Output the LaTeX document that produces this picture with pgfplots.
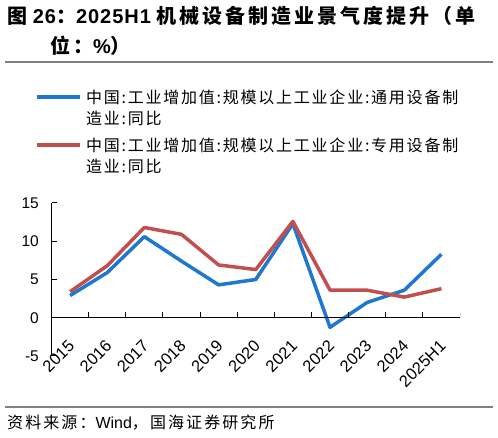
\documentclass[border=0pt]{standalone}
\usepackage{pgfplots}
\pgfplotsset{compat=1.18}
\usepackage{fontspec}
\setmainfont{Liberation Sans}
\newfontfamily\cjk{Noto Sans CJK SC}
\newfontfamily\cjkt{Noto Sans CJK SC}[LetterSpace=15]
\newfontfamily\cjkl{Noto Sans CJK SC}[LetterSpace=11]
\newfontfamily\cjks{Noto Sans CJK SC}[LetterSpace=13]
\newfontfamily\latt{Liberation Sans}[LetterSpace=5]
\definecolor{cblue}{RGB}{30,120,210}
\definecolor{cred}{RGB}{192,80,77}
\definecolor{rulegray}{RGB}{128,128,128}

% 工业增加值同比 (%)
\pgfplotstableread{
x general special
0  2.9   3.4
1  5.9   6.8
2  10.6  11.8
3  7.4   10.9
4  4.3   6.9
5  5.0   6.3
6  12.3  12.6
7  -1.25 3.6
8  2.0   3.6
9  3.6   2.7
10 8.3   3.8
}\data

\begin{document}
\begin{tikzpicture}[x=1pt,y=1pt]
\useasboundingbox (0,0) rectangle (498,438);

% title
\node[anchor=west, inner sep=0] at (7,422)
  {\fontsize{20}{24}\selectfont\bfseries{\cjkt 图} {\latt 26}{\cjkt ：}{\latt 2025H1} {\cjkt 机械设备制造业景气度提升（单}};
\node[anchor=west, inner sep=0] at (50,392)
  {\fontsize{20}{24}\selectfont\bfseries{\cjkt 位：}{\latt \%}{\cjkt ）}};
\draw[rulegray, line width=1.2pt] (5,376) -- (493,376);

% legend
\draw[cblue, line width=3.5pt] (37,341) -- (80,341);
\node[anchor=west, inner sep=0] at (86,341) {\fontsize{16}{19}\selectfont\cjkl 中国:工业增加值:规模以上工业企业:通用设备制};
\node[anchor=west, inner sep=0] at (86,320) {\fontsize{16}{19}\selectfont\cjkl 造业:同比};
\draw[cred, line width=3.5pt] (37,293) -- (80,293);
\node[anchor=west, inner sep=0] at (86,293) {\fontsize{16}{19}\selectfont\cjkl 中国:工业增加值:规模以上工业企业:专用设备制};
\node[anchor=west, inner sep=0] at (86,272) {\fontsize{16}{19}\selectfont\cjkl 造业:同比};

\begin{axis}[
  at={(51.5pt,82pt)}, anchor=south west,
  scale only axis, width=408.5pt, height=153pt,
  xmin=-0.5, xmax=10.5, ymin=-5, ymax=15,
  axis y line*=left, axis x line*=bottom,
  x axis line style={draw=none},
  y axis line style={line width=1pt},
  xtick={0,...,10},
  xticklabels={2015,2016,2017,2018,2019,2020,2021,2022,2023,2024,2025H1},
  major x tick style={draw=none},
  ytick={-5,0,5,10,15},
  tick align=inside,
  major tick length=6pt,
  y tick style={line width=1pt, black},
  yticklabel style={font=\fontsize{15.5}{18}\selectfont, inner sep=0pt, xshift=-12.5pt},
  xticklabel style={font=\fontsize{16.5}{19}\selectfont, inner sep=0pt, xshift=1.5pt, yshift=13pt, rotate=45, anchor=east},
  /pgf/number format/assume math mode=true,
]
\addplot[cblue, line width=3.5pt, line join=round] table[x=x, y=general] {\data};
\addplot[cred, line width=3.5pt, line join=round] table[x=x, y=special] {\data};
\draw[black, line width=1pt] (axis cs:-0.5,0) -- (axis cs:10.5,0);
\pgfplotsinvokeforeach{0.5,1.5,2.5,3.5,4.5,5.5,6.5,7.5,8.5,9.5,10.5}{
  \draw[black, line width=1pt] (axis cs:#1,0) -- ++(0pt,6pt);
}
\end{axis}

% source
\draw[rulegray, line width=1.2pt] (5,31) -- (493,31);
\node[anchor=west, inner sep=0] at (7,15)
  {\fontsize{16}{19}\selectfont{\cjks 资料来源：}Wind{\cjks ，国海证券研究所}};
\end{tikzpicture}
\end{document}
